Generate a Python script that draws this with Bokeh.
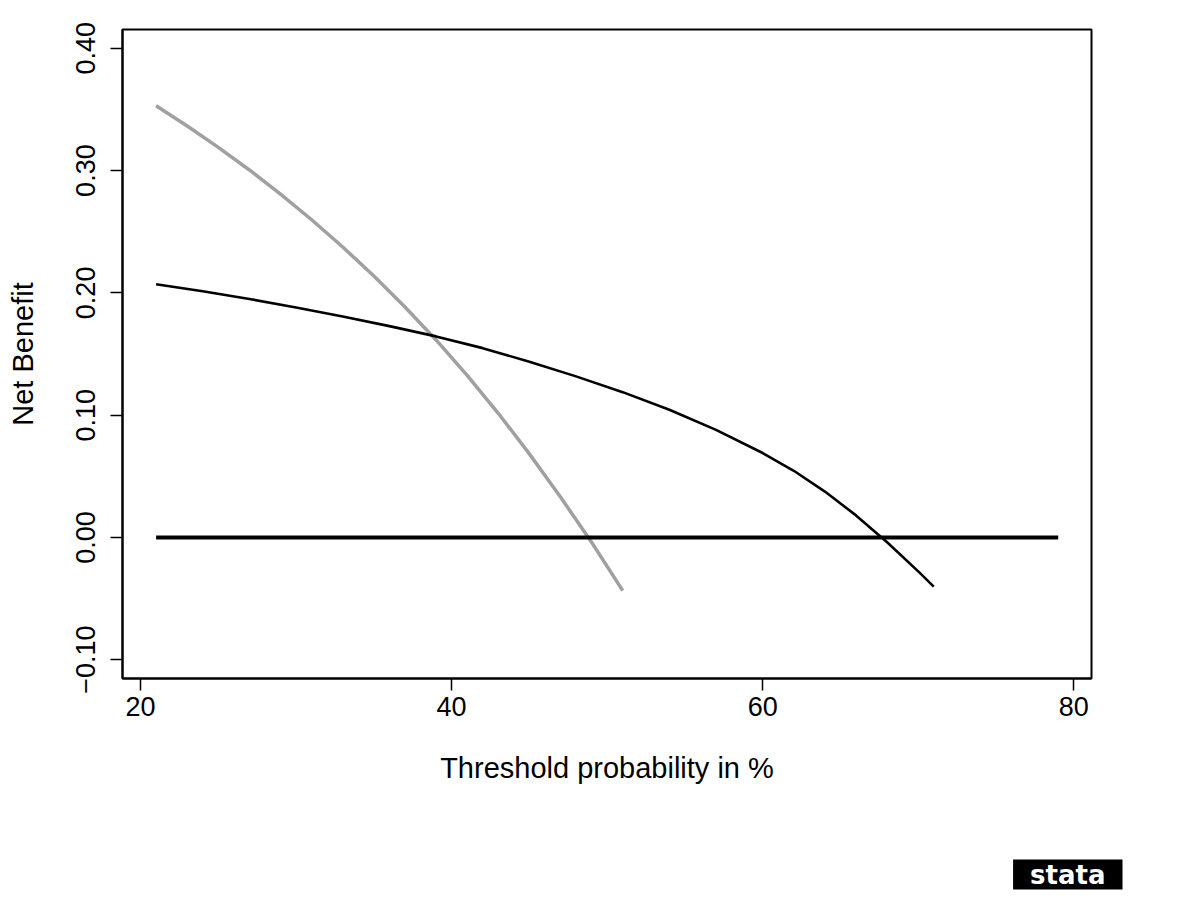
from bokeh.plotting import figure
from bokeh.models import Range1d, FixedTicker, Title
from bokeh.embed import file_html
from bokeh.resources import INLINE

# Data (threshold probability in %, net benefit)
x_all = [21, 23, 25, 27, 29, 31, 33, 35, 37, 39, 41, 43, 45, 47, 49, 51]
nb_all = [0.3530, 0.3365, 0.3190, 0.3005, 0.2808, 0.2598, 0.2375, 0.2138, 0.1885,
          0.1615, 0.1325, 0.1015, 0.0683, 0.0330, -0.0040, -0.0435]

x_model = [21, 24, 27, 30, 33, 36, 39, 42, 45, 48, 51, 54, 57, 60, 62, 64, 66, 68, 70, 71]
nb_model = [0.2070, 0.2013, 0.1950, 0.1881, 0.1806, 0.1728, 0.1644, 0.1548, 0.1437,
            0.1317, 0.1188, 0.1044, 0.0879, 0.0690, 0.0545, 0.0375, 0.0180, -0.0040,
            -0.0278, -0.0403]

x_none = [21, 79]
nb_none = [0.0, 0.0]

x_ticks = [20, 40, 60, 80]
y_ticks = [-0.1, 0.0, 0.1, 0.2, 0.3, 0.4]
y_tick_labels = ["\u22120.10", "0.00", "0.10", "0.20", "0.30", "0.40"]

FONT = "Liberation Sans"

p = figure(width=1184, height=891, output_backend="svg", toolbar_location=None,
           x_range=Range1d(18.84, 81.14), y_range=Range1d(-0.1154, 0.4154),
           min_border_left=122, min_border_right=93, min_border_top=29,
           min_border_bottom=213, background_fill_color="white",
           border_fill_color="white")

p.grid.visible = False
p.outline_line_color = "black"
p.outline_line_width = 2

p.line(x_all, nb_all, line_color="#a0a0a0", line_width=3.5)
p.line(x_model, nb_model, line_color="black", line_width=2.6)
p.line(x_none, nb_none, line_color="black", line_width=4)

for ax in (p.xaxis[0], p.yaxis[0]):
    ax.axis_line_color = "black"
    ax.axis_line_width = 2
    ax.major_tick_line_color = "black"
    ax.major_tick_line_width = 1.5
    ax.major_tick_out = 12
    ax.major_tick_in = 0
    ax.minor_tick_line_color = None
    ax.major_label_text_font = FONT
    ax.major_label_text_font_size = "27px"
    ax.major_label_text_color = "black"
    ax.axis_label_text_font = FONT
    ax.axis_label_text_font_size = "29px"
    ax.axis_label_text_font_style = "normal"
    ax.axis_label_text_color = "black"

p.xaxis.ticker = FixedTicker(ticks=x_ticks)
p.xaxis.major_label_standoff = 6
p.xaxis.axis_label = "Threshold probability in %"
p.xaxis.axis_label_standoff = 33

p.yaxis.ticker = FixedTicker(ticks=y_ticks)
p.yaxis.major_label_overrides = {t: s for t, s in zip(y_ticks, y_tick_labels)}
p.yaxis.major_label_orientation = "vertical"
p.yaxis.major_label_standoff = 15
p.yaxis.axis_label = "Net Benefit"
p.yaxis.axis_label_standoff = 35

spacer = Title(text=" ", standoff=58, text_font_size="10px", text_color="white")
p.add_layout(spacer, "below")

logo = Title(text="stata", align="right", offset=-31, standoff=0,
             text_color="white", text_font="DejaVu Sans",
             text_font_style="bold", text_font_size="26px",
             background_fill_color="black",
             padding=dict(left=17, right=17, top=0, bottom=0))
p.add_layout(logo, "below")

open("out.html", "w").write(file_html(p, INLINE))
